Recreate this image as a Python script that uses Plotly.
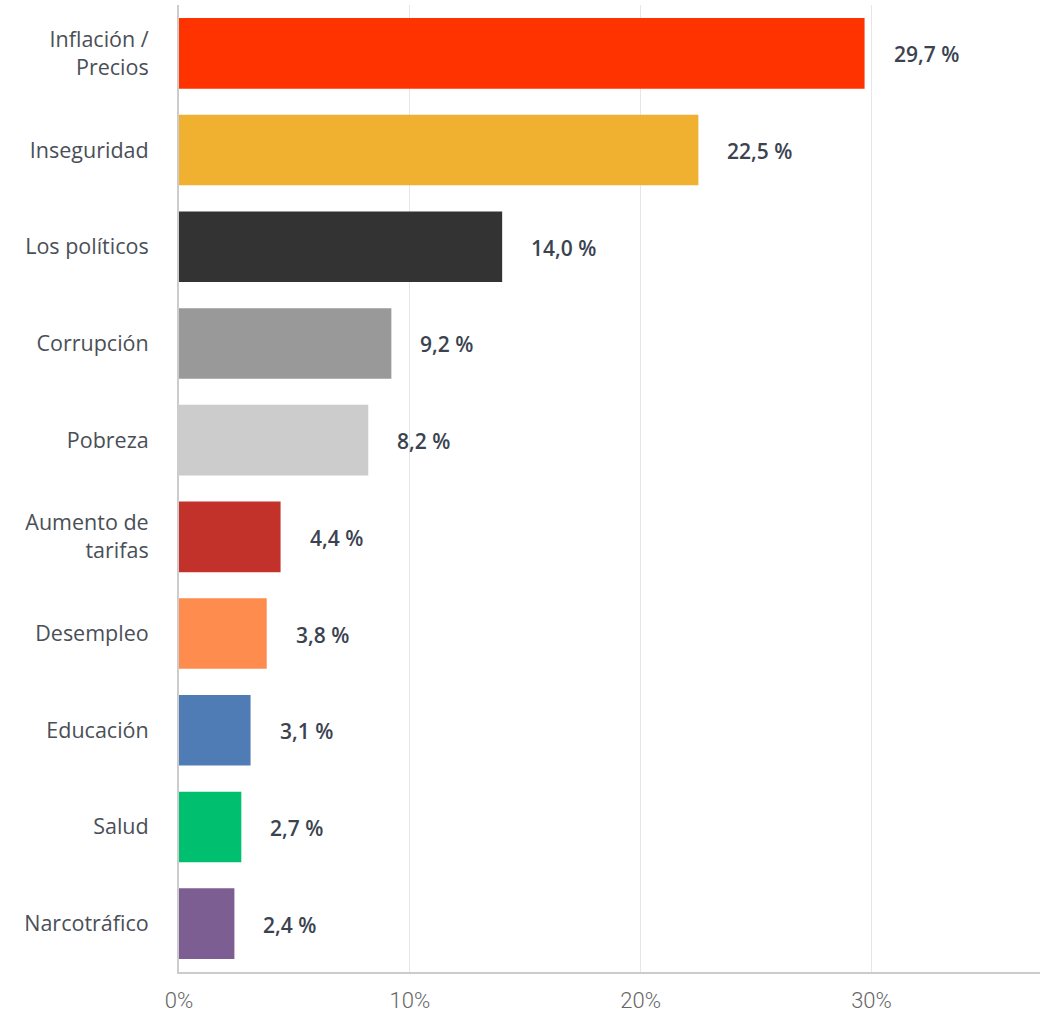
import plotly.graph_objects as go

categories = ["Inflación /<br>Precios", "Inseguridad", "Los políticos", "Corrupción", "Pobreza",
              "Aumento de<br>tarifas", "Desempleo", "Educación", "Salud", "Narcotráfico"]
values = [29.7, 22.5, 14.0, 9.2, 8.2, 4.4, 3.8, 3.1, 2.7, 2.4]
colors = ["#ff3300", "#efb12f", "#333333", "#999999", "#cccccc",
          "#c3312b", "#ff8c4f", "#507cb6", "#00bf6f", "#7d5e92"]
value_labels = [f"{v:.1f} %".replace(".", ",") for v in values]
tick_vals = [0, 10, 20, 30]
tick_text = ["0%", "10%", "20%", "30%"]

fig = go.Figure()
fig.add_trace(go.Bar(
    y=categories, x=values, orientation="h",
    marker=dict(color=colors, line=dict(width=0)),
    width=0.73, hoverinfo="skip",
))

for c, v, t in zip(categories, values, value_labels):
    fig.add_annotation(x=v, y=c, text=t, showarrow=False, xanchor="left",
                       xshift=27, yshift=-1,
                       font=dict(family="Open Sans", size=21, color="#3b4350", weight=600))

fig.update_layout(
    width=1042, height=1013,
    margin=dict(l=179, r=2, t=5, b=41, autoexpand=False),
    paper_bgcolor="white", plot_bgcolor="white",
    showlegend=False,
    bargap=0.27,
    xaxis=dict(range=[0, 37.3], tickvals=tick_vals, ticktext=tick_text,
               showgrid=True, gridcolor="#e6e6e6", gridwidth=1,
               zeroline=False, showline=True, linecolor="#cccccc", linewidth=2,
               ticks="", ticklabelstandoff=8, automargin=False,
               tickfont=dict(family="Roboto", size=22, color="#666666", weight=300)),
    yaxis=dict(autorange="reversed", showgrid=False, zeroline=False,
               showline=True, linecolor="#cccccc", linewidth=2,
               ticks="", ticklabelstandoff=24, automargin=False,
               tickfont=dict(family="Open Sans", size=21.5, color="#4a4f57")),
)

fig.write_html("out.html", config={"displayModeBar": False},
               post_script="document.body.style.margin='0';document.body.style.overflow='hidden';")
